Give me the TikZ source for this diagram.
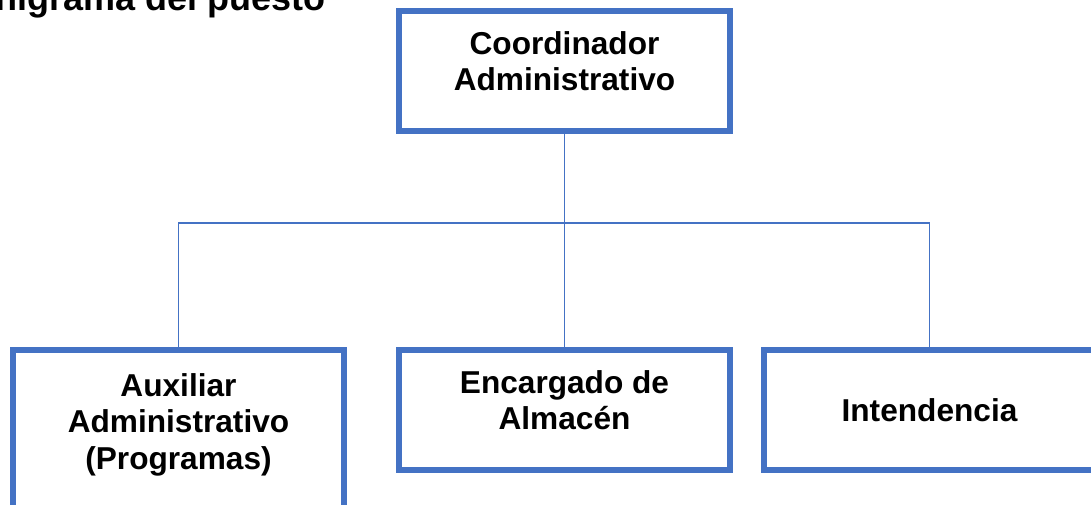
\documentclass[tikz,border=0pt]{standalone}
\usepackage{fontspec}
\setmainfont{Liberation Sans}
\usetikzlibrary{positioning}
\definecolor{boxblue}{HTML}{4472C4}
\newcommand{\lowstrut}{\rule[-14pt]{0pt}{14pt}}

\begin{document}
\begin{tikzpicture}[
  font=\fontsize{22.5}{26}\selectfont\bfseries,
  node distance=1cm,
  puesto/.style={draw=boxblue,line width=0.15cm,fill=white,
                 minimum width=8.275cm,minimum height=3cm,
                 align=center,inner sep=2pt,outer sep=0pt},
  link/.style={draw=boxblue,line width=0.04cm},
]
  \useasboundingbox (0,0) rectangle (27.275,-12.6);
  \clip (0,0) rectangle (27.275,-12.6);

  \node[anchor=base east,font=\fontsize{25.6}{30}\selectfont\bfseries]
    (titulo) at (8.25,-0.25) {Organigrama del puesto};

  \node[puesto] (coord) at (14.1125,-1.775)
    {Coordinador\\Administrativo\lowstrut};
  \node[puesto,below=5.475cm of coord] (alm)
    {Encargado de\\Almac\'en\lowstrut};
  \node[puesto,right=0.85cm of alm] (inten)
    {Intendencia};
  \node[puesto,minimum height=4.05cm,
        left=1.375cm of alm.north west,anchor=north east] (aux)
    {Auxiliar\\Administrativo\\(Programas)\lowstrut};

  \coordinate (bus) at ([yshift=-2.3cm]coord.south);
  \draw[link] (coord) -- (alm);
  \draw[link] (aux.north) |- (bus) -| (inten.north);
\end{tikzpicture}
\end{document}
